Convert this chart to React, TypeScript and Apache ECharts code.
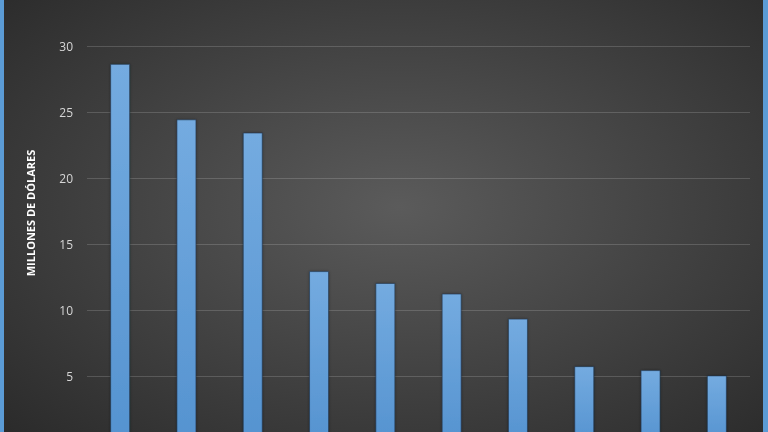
import { useEffect, useRef } from 'react';
import * as echarts from 'echarts';

// categorías (las etiquetas del eje X quedan fuera del recorte)
const categories = ['1', '2', '3', '4', '5', '6', '7', '8', '9', '10'];
const values = [28.7, 24.5, 23.5, 13.0, 12.1, 11.3, 9.4, 5.8, 5.5, 5.1];
const yTicks = [0, 5, 10, 15, 20, 25, 30];
const yTitle = 'MILLONES DE DÓLARES';

const colors = {
  bgCenter: '#5b5b5b',
  bgEdge: '#282828',
  frame: '#5b9bd5',
  barTop: '#74abe0',
  barBottom: '#5593d0',
  split: 'rgba(255,255,255,0.16)',
  label: '#d6d6d6',
  title: '#ffffff',
};

export default function App() {
  const chartRef = useRef<HTMLDivElement>(null);

  useEffect(() => {
    if (!chartRef.current) return;
    const chart = echarts.init(chartRef.current, undefined, { renderer: 'svg' });

    const option: echarts.EChartsOption = {
      animation: false,
      backgroundColor: new echarts.graphic.RadialGradient(0.52, 0.45, 0.75, [
        { offset: 0, color: colors.bgCenter },
        { offset: 1, color: colors.bgEdge },
      ]),
      grid: {
        left: 87,
        right: 18,
        top: 46.7,
        bottom: 17.3, // el cero queda por debajo del borde visible
      },
      xAxis: {
        type: 'category',
        data: categories,
        axisLine: { show: false },
        axisTick: { show: false },
        axisLabel: { show: false },
      },
      yAxis: {
        type: 'value',
        min: yTicks[0],
        max: yTicks[yTicks.length - 1],
        interval: 5,
        axisLine: { show: false },
        axisTick: { show: false },
        axisLabel: {
          showMinLabel: false,
          color: colors.label,
          fontSize: 12,
          fontFamily: 'Open Sans',
          margin: 14,
        },
        splitLine: { lineStyle: { color: colors.split, width: 1 } },
      },
      graphic: [
        {
          type: 'rect',
          left: 0,
          top: 0,
          shape: { width: 4, height: 460 },
          style: { fill: colors.frame },
        },
        {
          type: 'rect',
          right: 0,
          top: 0,
          shape: { width: 5, height: 460 },
          style: { fill: colors.frame },
        },
        {
          type: 'text',
          x: 30.5,
          y: 213,
          rotation: Math.PI / 2,
          style: {
            text: yTitle,
            fill: colors.title,
            font: 'bold 11px "Open Sans"',
            textAlign: 'center',
            textVerticalAlign: 'middle',
          },
        },
      ],
      series: [
        {
          type: 'bar',
          data: values,
          barWidth: 20,
          itemStyle: {
            color: new echarts.graphic.LinearGradient(0, 0, 0, 1, [
              { offset: 0, color: colors.barTop },
              { offset: 1, color: colors.barBottom },
            ]),
            borderColor: 'rgba(30,50,75,0.6)',
            borderWidth: 1,
            shadowColor: 'rgba(0,0,0,0.35)',
            shadowBlur: 3,
          },
        },
      ],
    };

    chart.setOption(option);
    return () => chart.dispose();
  }, []);

  return (
    <div
      style={{
        position: 'fixed',
        left: 0,
        top: 0,
        width: 768,
        height: 432,
        overflow: 'hidden',
      }}
    >
      <div ref={chartRef} style={{ width: 768, height: 460 }} />
    </div>
  );
}
